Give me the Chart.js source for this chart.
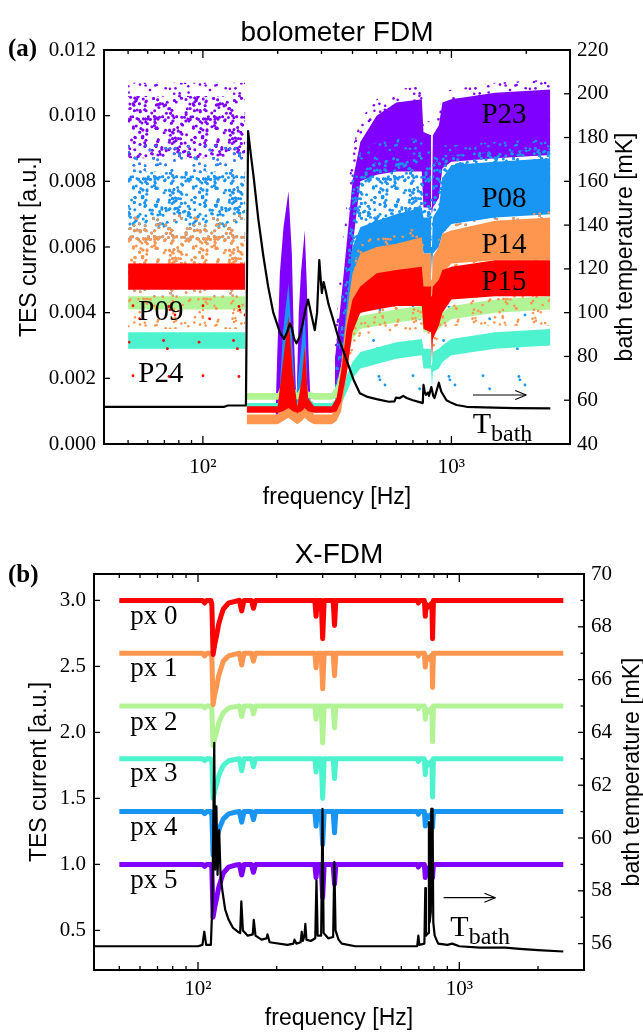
<!DOCTYPE html>
<html><head><meta charset="utf-8">
<script src="https://cdn.jsdelivr.net/npm/chart.js@4.4.0/dist/chart.umd.min.js"></script>
<style>
html,body{margin:0;padding:0;background:#fff;}
#wrap{position:relative;width:643px;height:1034px;background:#fff;overflow:hidden;}
canvas{position:absolute;left:0;}
</style></head><body>
<div id="wrap">
<canvas id="c1" width="643" height="520" style="top:0px"></canvas>
<canvas id="c2" width="643" height="514" style="top:520px"></canvas>
</div>
<script>
// ================= DATA =================
const freqMajor = [100, 1000];
const freqMinor = [50, 60, 70, 80, 90, 200, 300, 400, 500, 600, 700, 800, 900, 2000, 3000];
const freqTickText = {100: '10\u00B2', 1000: '10\u00B3'};

// ---- (a) bolometer FDM ----
const currentTicksA = [0, 0.002, 0.004, 0.006, 0.008, 0.010, 0.012];
const tempTicksA = [40, 60, 80, 100, 120, 140, 160, 180, 200, 220];

// P23 (purple)
const p23LeftF = [50, 148];
const p23LeftSparseLo = [0.0073, 0.0073];
const p23LeftSparseHi = [0.0110, 0.0110];
const p23LeftDenseLo = [0.0087, 0.0087];
const p23LeftDenseHi = [0.0106, 0.0106];
const p23SpikeF = [196, 204, 211, 221, 228, 232, 238, 243, 248, 257, 262, 266, 272];
const p23SpikeLo = [0.0009, 0.0009, 0.0009, 0.0009, 0.0009, 0.0009, 0.0009, 0.0009, 0.0009, 0.0009, 0.0009, 0.0009, 0.0009];
const p23SpikeHi = [0.0010, 0.0052, 0.0066, 0.0077, 0.0058, 0.0034, 0.0012, 0.0040, 0.0052, 0.0065, 0.0048, 0.0028, 0.0010];
const p23RightF = [340, 360, 380, 400, 430, 500, 600, 760, 772, 828, 835, 842, 890, 920, 1000, 1500, 2500];
const p23RightSparseLo = [0.0010, 0.0025, 0.0042, 0.0055, 0.0060, 0.0062, 0.0064, 0.0065, 0.0063, 0.0062, 0.0060, 0.0062, 0.0064, 0.0074, 0.0080, 0.0082, 0.0083];
const p23RightSparseHi = [0.0032, 0.0056, 0.0074, 0.0090, 0.0099, 0.0105, 0.0108, 0.0109, 0.0099, 0.0098, 0.0080, 0.0098, 0.0100, 0.0107, 0.0108, 0.0110, 0.0111];
const p23RightDenseLo = [0.0009, 0.0020, 0.0040, 0.0060, 0.0080, 0.0082, 0.0083, 0.0083, 0.0072, 0.0072, 0.0070, 0.0072, 0.0075, 0.0084, 0.0086, 0.0087, 0.0088];
const p23RightDenseHi = [0.0026, 0.0044, 0.0062, 0.0080, 0.0092, 0.0100, 0.0104, 0.0105, 0.0095, 0.0094, 0.0072, 0.0094, 0.0097, 0.0104, 0.0105, 0.0107, 0.0108];

// P08 (blue)
const p08LeftF = [50, 148];
const p08LeftSparseLo = [0.0045, 0.0045];
const p08LeftSparseHi = [0.0091, 0.0091];
const p08LeftDenseLo = [0.0062, 0.0062];
const p08LeftDenseHi = [0.0083, 0.0083];
const p08SpikeF = [202, 210, 221, 229, 236, 246, 257, 265];
const p08SpikeLo = [0.0010, 0.0010, 0.0010, 0.0010, 0.0010, 0.0010, 0.0010, 0.0010];
const p08SpikeHi = [0.0012, 0.0034, 0.0049, 0.0030, 0.0013, 0.0026, 0.0040, 0.0012];
const p08RightF = [340, 360, 380, 400, 430, 500, 600, 760, 772, 828, 835, 842, 890, 920, 1000, 1500, 2500];
const p08RightSparseLo = [0.0011, 0.0020, 0.0032, 0.0042, 0.0050, 0.0052, 0.0053, 0.0054, 0.0050, 0.0050, 0.0045, 0.0050, 0.0052, 0.0058, 0.0062, 0.0064, 0.0066];
const p08RightSparseHi = [0.0022, 0.0045, 0.0066, 0.0082, 0.0089, 0.0092, 0.0093, 0.0093, 0.0090, 0.0090, 0.0084, 0.0090, 0.0090, 0.0091, 0.0091, 0.0092, 0.0093];
const p08RightMidLo = [0.0011, 0.0018, 0.0032, 0.0048, 0.0060, 0.0064, 0.0066, 0.0068, 0.0066, 0.0066, 0.0060, 0.0066, 0.0068, 0.0072, 0.0076, 0.0078, 0.0080];
const p08RightMidHi = [0.0016, 0.0036, 0.0056, 0.0074, 0.0083, 0.0086, 0.0087, 0.0088, 0.0085, 0.0085, 0.0078, 0.0085, 0.0087, 0.0088, 0.0088, 0.0089, 0.0090];
const p08RightDenseLo = [0.0010, 0.0013, 0.0026, 0.0044, 0.0055, 0.0058, 0.0060, 0.0062, 0.0058, 0.0058, 0.0052, 0.0058, 0.0060, 0.0064, 0.0067, 0.0069, 0.0070];
const p08RightDenseHi = [0.0013, 0.0024, 0.0044, 0.0060, 0.0066, 0.0068, 0.0070, 0.0072, 0.0069, 0.0069, 0.0060, 0.0069, 0.0072, 0.0081, 0.0085, 0.0086, 0.0087];
const p08DotsF = [430, 2500];
const p08DotsLo = [0.0016, 0.0016];
const p08DotsHi = [0.0042, 0.0042];

// P24 (turquoise) and P09 (light green)
const p24LeftF = [50, 148];
const p24LeftLo = [0.0029, 0.0029];
const p24LeftHi = [0.0034, 0.0034];
const lowRightF = [150, 200, 212, 221, 230, 240, 250, 257, 265, 280, 330, 345, 360, 380, 400, 430, 600, 760, 772, 828, 835, 842, 890, 920, 1000, 1500, 2500];
const p24RightLo = [0.00105, 0.00105, 0.0011, 0.0011, 0.0011, 0.00105, 0.0011, 0.0011, 0.0011, 0.00105, 0.00105, 0.0011, 0.0012, 0.0016, 0.0020, 0.0023, 0.0026, 0.0027, 0.0023, 0.0023, 0.0017, 0.0022, 0.0023, 0.0025, 0.0027, 0.0029, 0.0030];
const p24RightHi = [0.00125, 0.00125, 0.0017, 0.0022, 0.0015, 0.00125, 0.0015, 0.0019, 0.0014, 0.00125, 0.00125, 0.0014, 0.0017, 0.0021, 0.0025, 0.0028, 0.0031, 0.0032, 0.0029, 0.0029, 0.0024, 0.0028, 0.0029, 0.0030, 0.0032, 0.0034, 0.0035];
const p09LeftF = [50, 148];
const p09LeftLo = [0.0041, 0.0041];
const p09LeftHi = [0.0045, 0.0045];
const p09RightLo = [0.00135, 0.00135, 0.0014, 0.0014, 0.0014, 0.00135, 0.0014, 0.0014, 0.0014, 0.00135, 0.00135, 0.0014, 0.0018, 0.0026, 0.0032, 0.0035, 0.0037, 0.0038, 0.0034, 0.0034, 0.0028, 0.0033, 0.0035, 0.0036, 0.0038, 0.0040, 0.0041];
const p09RightHi = [0.00155, 0.00155, 0.0020, 0.0030, 0.0018, 0.00155, 0.0018, 0.0024, 0.0016, 0.00155, 0.00155, 0.0018, 0.0024, 0.0031, 0.0036, 0.0039, 0.0041, 0.0042, 0.0038, 0.0038, 0.0034, 0.0037, 0.0039, 0.0040, 0.0042, 0.0044, 0.0045];

// P14 (orange) and P15 (red)
const p14LeftF = [50, 148];
const p14LeftSparseLo = [0.0035, 0.0035];
const p14LeftSparseHi = [0.0070, 0.0070];
const p14LeftDenseLo = [0.0054, 0.0054];
const p14LeftDenseHi = [0.0066, 0.0066];
const p14SparseF = [380, 430, 760, 800, 840, 880, 1000, 2500];
const p14SparseLo = [0.0025, 0.0033, 0.0035, 0.0030, 0.0028, 0.0032, 0.0036, 0.0036];
const p14SparseHi = [0.0045, 0.0063, 0.0066, 0.0061, 0.0056, 0.0062, 0.0067, 0.0071];
const highRightF = [150, 200, 210, 221, 230, 240, 250, 257, 265, 280, 330, 345, 360, 380, 400, 430, 500, 600, 760, 772, 828, 835, 842, 890, 920, 1000, 1500, 2500];
const p14RightLo = [0.0006, 0.0006, 0.0007, 0.0008, 0.0007, 0.0006, 0.0007, 0.0008, 0.0007, 0.0006, 0.0006, 0.0007, 0.0010, 0.0022, 0.0036, 0.0047, 0.0051, 0.0052, 0.0053, 0.0047, 0.0047, 0.0040, 0.0046, 0.0048, 0.0052, 0.0055, 0.0056, 0.0056];
const p14RightHi = [0.0009, 0.0009, 0.0022, 0.0038, 0.0020, 0.0009, 0.0018, 0.0030, 0.0012, 0.0009, 0.0009, 0.0012, 0.0024, 0.0040, 0.0052, 0.0058, 0.0060, 0.0061, 0.0063, 0.0058, 0.0058, 0.0050, 0.0057, 0.0060, 0.0064, 0.0065, 0.0068, 0.0069];
const p15LeftF = [50, 148];
const p15LeftSparseLo = [0.0020, 0.0020];
const p15LeftSparseHi = [0.0047, 0.0047];
const p15LeftLo = [0.0047, 0.0047];
const p15LeftHi = [0.0055, 0.0055];
const p15RightLo = [0.00095, 0.00095, 0.0010, 0.0011, 0.0010, 0.00095, 0.0010, 0.0011, 0.0010, 0.00095, 0.00095, 0.0010, 0.0013, 0.0022, 0.0034, 0.0040, 0.0041, 0.0042, 0.0042, 0.0035, 0.0034, 0.0025, 0.0032, 0.0036, 0.0040, 0.0044, 0.0045, 0.0045];
const p15RightHi = [0.00115, 0.00115, 0.0025, 0.0039, 0.0022, 0.00115, 0.0020, 0.0030, 0.0014, 0.00115, 0.00115, 0.0014, 0.0022, 0.0036, 0.0044, 0.0048, 0.0052, 0.0053, 0.0054, 0.0048, 0.0048, 0.0045, 0.0048, 0.0050, 0.0053, 0.0054, 0.0056, 0.0056];

// bath temperature (a), mK
const aTempF = [40, 100, 122, 126, 149, 150.5, 152, 156, 160, 167, 175, 183, 192, 204, 212, 218, 224, 228, 233, 238, 245, 252, 258, 265, 272, 282, 288, 294, 298, 301, 306, 312, 320, 334, 350, 366, 385, 405, 428, 460, 500, 560, 590, 598, 620, 640, 660, 700, 750, 767, 772, 780, 790, 805, 812, 830, 845, 855, 870, 890, 910, 955, 1000, 1050, 1150, 1350, 1800, 2500];
const aTempV = [57.0, 57.0, 57.0, 57.6, 57.6, 120, 183, 172, 162, 143, 126, 112, 100, 91, 88, 91, 95, 93, 88, 86, 89, 95, 101, 106, 100, 92, 100, 124, 115, 109, 114, 110, 104, 97, 89, 83, 76, 69, 63.2, 61.5, 60.5, 59.3, 59.5, 61.2, 61.0, 62.0, 61.0, 60.0, 59.0, 58.7, 67, 64, 62.5, 63.5, 62, 66, 62, 61, 64, 68, 64, 60, 58.8, 57.8, 57.0, 56.7, 56.4, 56.3];

// ---- (b) X-FDM ----
const currentTicksB = [0.5, 1.0, 1.5, 2.0, 2.5, 3.0];
const tempTicksB = [56, 58, 60, 62, 64, 66, 68, 70];
const tempMinorB = [55, 57, 59, 61, 63, 65, 67, 69];
const pixelF = [50, 104, 106, 108, 112, 113, 114.2, 116, 118, 120, 122, 125, 131, 140, 144, 147, 150, 160, 163, 166, 280, 283, 286, 296, 300, 304, 329, 333, 337, 690, 697, 704, 735, 741, 747, 756, 762, 785, 790, 796, 2500];
const px0 = [3.0, 3.0, 2.98, 3.0, 3.0, 2.97, 2.59, 2.67, 2.74, 2.82, 2.87, 2.935, 2.98, 2.995, 3.0, 2.92, 3.0, 3.0, 2.94, 3.0, 3.0, 2.88, 3.0, 3.0, 2.71, 3.0, 3.0, 2.81, 3.0, 3.0, 2.98, 3.0, 3.0, 2.88, 2.97, 2.96, 2.95, 2.98, 2.71, 3.0, 3.0];
const px1 = [2.6, 2.6, 2.58, 2.6, 2.6, 2.57, 2.21, 2.29, 2.355, 2.43, 2.475, 2.54, 2.58, 2.595, 2.6, 2.51, 2.6, 2.6, 2.54, 2.6, 2.6, 2.49, 2.6, 2.6, 2.33, 2.6, 2.6, 2.43, 2.6, 2.6, 2.58, 2.6, 2.6, 2.495, 2.575, 2.565, 2.555, 2.585, 2.34, 2.6, 2.6];
const px2 = [2.2, 2.2, 2.185, 2.2, 2.2, 2.17, 1.90, 1.96, 2.01, 2.07, 2.105, 2.15, 2.185, 2.197, 2.2, 2.12, 2.2, 2.2, 2.14, 2.2, 2.2, 2.10, 2.2, 2.2, 1.92, 2.2, 2.2, 2.035, 2.2, 2.2, 2.18, 2.2, 2.2, 2.10, 2.175, 2.165, 2.155, 2.185, 1.93, 2.2, 2.2];
const px3 = [1.8, 1.8, 1.785, 1.8, 1.8, 1.77, 1.50, 1.56, 1.61, 1.67, 1.705, 1.75, 1.785, 1.797, 1.8, 1.71, 1.8, 1.8, 1.74, 1.8, 1.8, 1.70, 1.8, 1.8, 1.50, 1.8, 1.8, 1.65, 1.8, 1.8, 1.78, 1.8, 1.8, 1.68, 1.775, 1.765, 1.755, 1.785, 1.51, 1.8, 1.8];
const px4 = [1.4, 1.4, 1.385, 1.4, 1.4, 1.37, 1.07, 1.14, 1.19, 1.255, 1.295, 1.345, 1.383, 1.397, 1.4, 1.32, 1.4, 1.4, 1.34, 1.4, 1.4, 1.29, 1.4, 1.4, 1.15, 1.4, 1.4, 1.24, 1.4, 1.4, 1.38, 1.4, 1.4, 1.29, 1.375, 1.365, 1.355, 1.385, 1.28, 1.4, 1.4];
const px5 = [1.0, 1.0, 0.985, 1.0, 1.0, 0.97, 0.60, 0.68, 0.75, 0.825, 0.87, 0.935, 0.98, 0.996, 1.0, 0.92, 1.0, 1.0, 0.94, 1.0, 1.0, 0.90, 1.0, 1.0, 0.75, 1.0, 1.0, 0.85, 1.0, 1.0, 0.98, 1.0, 1.0, 0.90, 0.975, 0.965, 0.955, 0.985, 0.90, 1.0, 1.0];
const pixelNames = ['px 0', 'px 1', 'px 2', 'px 3', 'px 4', 'px 5'];
const bTempF = [40, 95, 100, 104, 105.7, 107.5, 112, 113.5, 115.4, 116.3, 117.6, 118.8, 120.5, 122, 124, 127, 131, 136, 142, 145, 146.5, 148.5, 155, 162, 163.5, 166, 175, 183, 184.5, 188, 220, 232, 234, 238, 247, 249.5, 252, 255.5, 257.5, 260, 270, 281, 284, 287, 296, 299.5, 302.5, 315, 329, 332.5, 336, 345, 355, 400, 500, 690, 697, 703, 735, 741, 745, 760, 765, 770, 778, 781, 785, 790, 795, 805, 830, 900, 940, 1000, 1200, 1500, 1700, 2000, 2500];
const bTempV = [55.9, 55.9, 55.9, 55.95, 56.45, 55.95, 55.95, 57.5, 63.6, 58.8, 61.2, 58.6, 60.3, 58.6, 58.0, 57.3, 56.9, 56.6, 56.45, 56.4, 57.6, 56.5, 56.3, 56.35, 56.9, 56.3, 56.15, 56.2, 56.35, 56.05, 55.95, 56.0, 56.15, 56.0, 56.05, 56.45, 56.1, 56.3, 56.75, 56.15, 56.1, 56.2, 58.4, 56.3, 56.3, 61.1, 56.4, 56.2, 56.25, 59.1, 56.5, 56.15, 56.0, 55.9, 55.9, 55.9, 56.3, 55.95, 56.0, 58.1, 56.3, 56.4, 60.6, 56.8, 57.2, 61.1, 57.5, 61.1, 56.8, 56.3, 56.0, 55.95, 56.0, 55.9, 55.85, 55.85, 55.8, 55.75, 55.7];

// ================= STYLE =================
const COL = {purple: '#8000ff', blue: '#1996f3', turq: '#4df3ce', green: '#b2f396', orange: '#ff964f', red: '#ff0000'};
const SERIF = '"Liberation Serif", "DejaVu Serif", serif';
const SANS = '"Liberation Sans", Arial, sans-serif';
// speckle textures (deterministic irregular dot layout, styling only)
const DOTS = {
  medium: {size: 60, n: 175, r: 1.5},
  sparse: {size: 60, n: 70, r: 1.3},
  vsparse: {size: 70, n: 8, r: 1.4}
};
function fillStyleFor(ctx, color, style) {
  if (style === 'solid') return color;
  const d = DOTS[style];
  const t = document.createElement('canvas');
  t.width = t.height = d.size;
  const g = t.getContext('2d');
  g.fillStyle = color;
  const fr = v => v - Math.floor(v);
  for (let i = 0; i < d.n; i++) {
    const x = fr(0.5 + 0.7548776662 * i + 0.37 * fr(i * 0.4142135624 + fr(i * i * 0.0137))) * d.size;
    const y = fr(0.5 + 0.5698402910 * i + 0.41 * fr(i * 0.7320508076 + fr(i * i * 0.0211))) * d.size;
    for (const ox of [-d.size, 0, d.size]) for (const oy of [-d.size, 0, d.size]) {
      g.beginPath(); g.arc(x + ox, y + oy, d.r, 0, Math.PI * 2); g.fill();
    }
  }
  return ctx.createPattern(t, 'repeat');
}
const pts = (xs, ys) => xs.map((x, i) => ({x: x, y: ys[i]}));

function bandDatasets(ctx, bands) {
  const out = [];
  bands.forEach((b, k) => {
    const order = 1000 - k;
    const hiIndex = out.length;
    out.push({data: pts(b.f, b.hi), yAxisID: 'y', borderWidth: 0, borderColor: 'rgba(0,0,0,0)', pointRadius: 0, fill: false, order: order, tension: 0});
    out.push({data: pts(b.f, b.lo), yAxisID: 'y', borderWidth: 0, borderColor: 'rgba(0,0,0,0)', pointRadius: 0,
      fill: hiIndex, backgroundColor: fillStyleFor(ctx, b.c, b.s), order: order, tension: 0});
  });
  return out;
}

const overlayCfg = {};
const overlayPlugin = {
  id: 'overlay',
  afterDraw(chart) {
    const o = overlayCfg[chart.canvas.id];
    const ctx = chart.ctx, a = chart.chartArea;
    const sx = chart.scales.x, sy = chart.scales.y, st = chart.scales.yT;
    ctx.save();
    ctx.strokeStyle = '#000'; ctx.fillStyle = '#000';
    const seg = (x1, y1, x2, y2) => { ctx.beginPath(); ctx.moveTo(x1, y1); ctx.lineTo(x2, y2); ctx.stroke(); };
    ctx.lineWidth = 1.3;
    freqMajor.forEach(v => { const x = sx.getPixelForValue(v); seg(x, a.bottom, x, a.bottom - 8); seg(x, a.top, x, a.top + 8); });
    freqMinor.forEach(v => { const x = sx.getPixelForValue(v); if (x < a.left + 2 || x > a.right - 2) return; seg(x, a.bottom, x, a.bottom - 4); seg(x, a.top, x, a.top + 4); });
    o.yTicks.forEach(v => { const y = sy.getPixelForValue(v); if (y < a.top + 2 || y > a.bottom - 2) return; seg(a.left, y, a.left + 6, y); });
    o.tTicks.forEach(v => { const y = st.getPixelForValue(v); if (y < a.top + 2 || y > a.bottom - 2) return; seg(a.right, y, a.right - 6, y); });
    (o.tMinor || []).forEach(v => { const y = st.getPixelForValue(v); if (y < a.top + 2 || y > a.bottom - 2) return; seg(a.right, y, a.right - 3.5, y); });
    ctx.lineWidth = 2;
    ctx.strokeRect(a.left, a.top, a.right - a.left, a.bottom - a.top);
    o.labels.forEach(L => {
      const sc = L.axis === 'yT' ? st : sy;
      const x = sx.getPixelForValue(L.f), y = sc.getPixelForValue(L.v);
      ctx.font = L.font; ctx.textAlign = 'left'; ctx.textBaseline = 'alphabetic';
      ctx.fillText(L.text, x, y);
      if (L.sub) {
        const w = ctx.measureText(L.text).width;
        ctx.font = L.subFont; ctx.fillText(L.sub, x + w, y + L.subDy);
      }
    });
    ctx.lineWidth = 1.1;
    o.arrows.forEach(A => {
      const x1 = sx.getPixelForValue(A.f1), x2 = sx.getPixelForValue(A.f2), y = st.getPixelForValue(A.v);
      seg(x1, y, x2, y); seg(x2, y, x2 - 11, y - 4.5); seg(x2, y, x2 - 11, y + 4.5);
    });
    o.texts.forEach(T => {
      ctx.save();
      ctx.font = T.font; ctx.textAlign = T.align || 'center'; ctx.textBaseline = T.baseline || 'alphabetic';
      ctx.translate(T.x, T.y); if (T.rot) ctx.rotate(T.rot);
      ctx.fillText(T.text, 0, 0);
      ctx.restore();
    });
    ctx.restore();
  }
};

function axes(cfg) {
  const tickFont = {family: SERIF, size: 21};
  return {
    x: {type: 'logarithmic', min: 40, max: 3000, position: 'bottom',
        grid: {display: false, drawTicks: false}, border: {display: false},
        afterBuildTicks: s => { s.ticks = freqMajor.map(v => ({value: v})); },
        afterFit: s => { s.height = cfg.xH; },
        ticks: {font: tickFont, color: '#000', padding: cfg.xPad, maxRotation: 0, autoSkip: false,
                callback: v => freqTickText[v] || ''}},
    y: {type: 'linear', position: 'left', min: cfg.yMin, max: cfg.yMax,
        grid: {display: false, drawTicks: false}, border: {display: false},
        afterBuildTicks: s => { s.ticks = cfg.yTicks.map(v => ({value: v})); },
        afterFit: s => { s.width = cfg.yW; },
        ticks: {font: tickFont, color: '#000', padding: 8, callback: v => v.toFixed(cfg.yDec)}},
    yT: {type: 'linear', position: 'right', min: cfg.tMin, max: cfg.tMax,
        grid: {display: false, drawTicks: false}, border: {display: false},
        afterBuildTicks: s => { s.ticks = cfg.tTicks.map(v => ({value: v})); },
        afterFit: s => { s.width = cfg.tW; },
        ticks: {font: tickFont, color: '#000', padding: 7, callback: v => String(v)}}
  };
}
const baseOpts = (padTop, scales) => ({
  responsive: false, animation: false, devicePixelRatio: 1,
  layout: {padding: {top: padTop, left: 0, right: 0, bottom: 0}},
  plugins: {legend: {display: false}, tooltip: {enabled: false}, title: {display: false}},
  scales: scales
});

// ================= CHART (a) =================
const ctxA = document.getElementById('c1').getContext('2d');
const bandsA = [
  {f: p23LeftF, lo: p23LeftSparseLo, hi: p23LeftSparseHi, c: COL.purple, s: 'sparse'},
  {f: p23LeftF, lo: p23LeftDenseLo, hi: p23LeftDenseHi, c: COL.purple, s: 'medium'},
  {f: p23SpikeF, lo: p23SpikeLo, hi: p23SpikeHi, c: COL.purple, s: 'solid'},
  {f: p23RightF, lo: p23RightSparseLo, hi: p23RightSparseHi, c: COL.purple, s: 'sparse'},
  {f: p23RightF, lo: p23RightDenseLo, hi: p23RightDenseHi, c: COL.purple, s: 'solid'},
  {f: p08LeftF, lo: p08LeftSparseLo, hi: p08LeftSparseHi, c: COL.blue, s: 'sparse'},
  {f: p08LeftF, lo: p08LeftDenseLo, hi: p08LeftDenseHi, c: COL.blue, s: 'medium'},
  {f: p08SpikeF, lo: p08SpikeLo, hi: p08SpikeHi, c: COL.blue, s: 'solid'},
  {f: p08RightF, lo: p08RightSparseLo, hi: p08RightSparseHi, c: COL.blue, s: 'sparse'},
  {f: p08RightF, lo: p08RightMidLo, hi: p08RightMidHi, c: COL.blue, s: 'medium'},
  {f: p08RightF, lo: p08RightDenseLo, hi: p08RightDenseHi, c: COL.blue, s: 'solid'},
  {f: p08DotsF, lo: p08DotsLo, hi: p08DotsHi, c: COL.blue, s: 'vsparse'},
  {f: p24LeftF, lo: p24LeftLo, hi: p24LeftHi, c: COL.turq, s: 'solid'},
  {f: lowRightF, lo: p24RightLo, hi: p24RightHi, c: COL.turq, s: 'solid'},
  {f: p09LeftF, lo: p09LeftLo, hi: p09LeftHi, c: COL.green, s: 'solid'},
  {f: lowRightF, lo: p09RightLo, hi: p09RightHi, c: COL.green, s: 'solid'},
  {f: p14LeftF, lo: p14LeftSparseLo, hi: p14LeftSparseHi, c: COL.orange, s: 'sparse'},
  {f: p14LeftF, lo: p14LeftDenseLo, hi: p14LeftDenseHi, c: COL.orange, s: 'medium'},
  {f: p14SparseF, lo: p14SparseLo, hi: p14SparseHi, c: COL.orange, s: 'sparse'},
  {f: highRightF, lo: p14RightLo, hi: p14RightHi, c: COL.orange, s: 'solid'},
  {f: p15LeftF, lo: p15LeftSparseLo, hi: p15LeftSparseHi, c: COL.red, s: 'vsparse'},
  {f: p15LeftF, lo: p15LeftLo, hi: p15LeftHi, c: COL.red, s: 'solid'},
  {f: highRightF, lo: p15RightLo, hi: p15RightHi, c: COL.red, s: 'solid'}
];
const dsA = bandDatasets(ctxA, bandsA);
dsA.push({data: pts(aTempF, aTempV), yAxisID: 'yT', borderColor: '#000', borderWidth: 2.2, pointRadius: 0,
  fill: false, order: 0, tension: 0, borderJoinStyle: 'round'});

overlayCfg.c1 = {
  yTicks: currentTicksA, tTicks: tempTicksA,
  labels: [
    {text: 'P23', f: 1320, v: 0.00977, font: '29px ' + SERIF},
    {text: 'P08', f: 1320, v: 0.00723, font: '29px ' + SERIF},
    {text: 'P14', f: 1320, v: 0.00581, font: '29px ' + SERIF},
    {text: 'P15', f: 1320, v: 0.00469, font: '29px ' + SERIF},
    {text: 'P09', f: 55, v: 0.00378, font: '29px ' + SERIF},
    {text: 'P24', f: 55, v: 0.0019, font: '29px ' + SERIF},
    {text: 'T', f: 1218, v: 45.0, axis: 'yT', font: '30px ' + SERIF, sub: 'bath', subFont: '24px ' + SERIF, subDy: 8}
  ],
  arrows: [{f1: 1221, f2: 2000, v: 62.4}],
  texts: [
    {text: '(a)', x: 8, y: 56, font: 'bold 25px ' + SERIF, align: 'left'},
    {text: 'bolometer FDM', x: 337, y: 41, font: '28px ' + SANS},
    {text: 'TES current [a.u.]', x: 30, y: 247, font: '23px ' + SANS, rot: -Math.PI / 2, baseline: 'middle'},
    {text: 'bath temperature [mK]', x: 626, y: 247, font: '23px ' + SANS, rot: -Math.PI / 2, baseline: 'middle'},
    {text: 'frequency [Hz]', x: 337, y: 504, font: '23px ' + SANS}
  ]
};
new Chart(ctxA, {
  type: 'line',
  data: {datasets: dsA},
  options: baseOpts(50, axes({xH: 76, xPad: 11, yMin: 0, yMax: 0.012, yTicks: currentTicksA, yDec: 3, yW: 104,
    tMin: 40, tMax: 220, tTicks: tempTicksA, tW: 73})),
  plugins: [overlayPlugin]
});

// ================= CHART (b) =================
const ctxB = document.getElementById('c2').getContext('2d');
const pixelSeries = [px0, px1, px2, px3, px4, px5];
const pixelColors = [COL.red, COL.orange, COL.green, COL.turq, COL.blue, COL.purple];
const pixelLabelY = [2.825, 2.426, 2.02, 1.63, 1.225, 0.82];
const dsB = pixelSeries.map((vals, i) => ({
  data: pts(pixelF, vals), yAxisID: 'y', borderColor: pixelColors[i], borderWidth: 5, pointRadius: 0,
  fill: false, order: 10 + i, tension: 0, borderJoinStyle: 'round'
}));
dsB.push({data: pts(bTempF, bTempV), yAxisID: 'yT', borderColor: '#000', borderWidth: 2.2, pointRadius: 0,
  fill: false, order: 0, tension: 0, borderJoinStyle: 'round'});

overlayCfg.c2 = {
  yTicks: currentTicksB, tTicks: tempTicksB, tMinor: tempMinorB,
  labels: pixelNames.map((n, i) => ({text: n, f: 55, v: pixelLabelY[i], font: '27px ' + SERIF}))
    .concat([{text: 'T', f: 924, v: 56.28, axis: 'yT', font: '30px ' + SERIF, sub: 'bath', subFont: '24px ' + SERIF, subDy: 8}]),
  arrows: [{f1: 871, f2: 1374, v: 57.74}],
  texts: [
    {text: '(b)', x: 8, y: 62, font: 'bold 25px ' + SERIF, align: 'left'},
    {text: 'X-FDM', x: 339, y: 43, font: '28px ' + SANS},
    {text: 'TES current [a.u.]', x: 40, y: 252, font: '23px ' + SANS, rot: -Math.PI / 2, baseline: 'middle'},
    {text: 'bath temperature [mK]', x: 633, y: 252, font: '23px ' + SANS, rot: -Math.PI / 2, baseline: 'middle'},
    {text: 'frequency [Hz]', x: 339, y: 505, font: '23px ' + SANS}
  ]
};
new Chart(ctxB, {
  type: 'line',
  data: {datasets: dsB},
  options: baseOpts(54, axes({xH: 64, xPad: 7, yMin: 0.2, yMax: 3.2, yTicks: currentTicksB, yDec: 1, yW: 94,
    tMin: 55, tMax: 70, tTicks: tempTicksB, tW: 59})),
  plugins: [overlayPlugin]
});
</script>
</body></html>
